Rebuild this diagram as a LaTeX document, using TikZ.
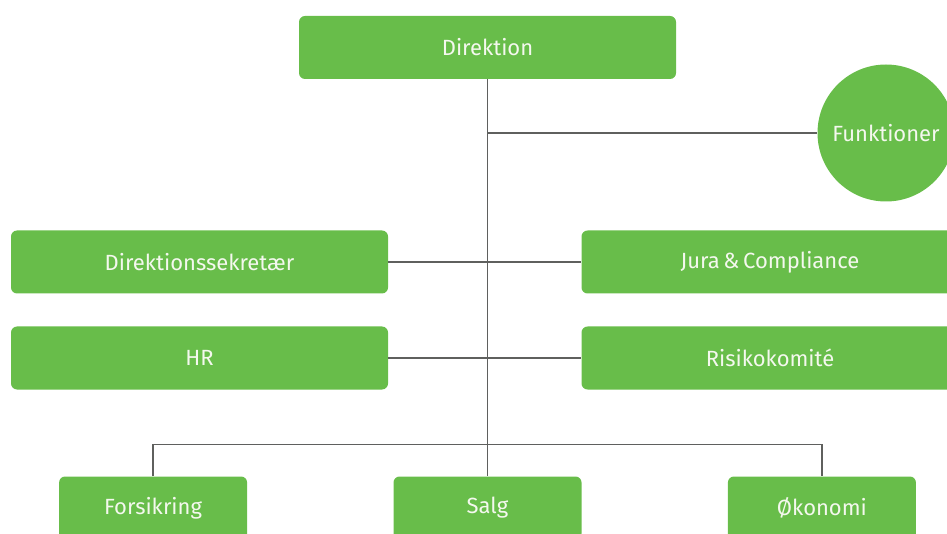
\documentclass[tikz,border=0pt]{standalone}
\usepackage{fontspec}
\setmainfont{Fira Sans}
\usepackage{xcolor}
\usepackage{tikz}
\usetikzlibrary{positioning,calc}

\definecolor{orggreen}{HTML}{68BD4A}
\definecolor{linegray}{HTML}{5F605E}
\definecolor{labelwhite}{HTML}{F4F8EE}

\begin{document}
\begin{tikzpicture}[
    x=1pt, y=-1pt,
    font=\fontsize{22}{26}\selectfont,
    unit/.style={fill=orggreen, rounded corners=6pt, text=labelwhite, minimum width=377pt, minimum height=63pt, inner sep=0pt},
    dept/.style={unit, minimum width=188pt},
    staff/.style={circle, fill=orggreen, text=labelwhite, minimum size=137pt, inner sep=0pt},
    link/.style={draw=linegray, line width=1.3pt}
]
\useasboundingbox (0,0) rectangle (947,534);
\clip (0,0) rectangle (947,534);
% top
\node[unit] (dir) at (487.5,47.5) {Direktion};
\node[staff] (fun) at (886,133) {Funktioner};
% staff rows
\node[unit] (sek) at (199.5,262) {Direktionssekretær};
\node[unit] (hr) at (199.5,358) {HR};
\node[unit] (jura) at (770,262) {Jura\,\&\,Compliance};
\node[unit] (risk) at (770,358) {Risikokomité};
% departments
\node[dept] (salg) at (487.5,508) {Salg};
\node[dept, left=146pt of salg] (fors) {Forsikring};
\node[dept, right=146pt of salg] (oko) {Økonomi};

\draw[link] (dir.south) -- (salg.north);
\draw[link] (dir.south |- fun.west) -- (fun.west);
\draw[link] (sek.east) -- (jura.west);
\draw[link] (hr.east) -- (risk.west);
\draw[link] (fors.north) -- ++(0,-32) -| (oko.north);
\end{tikzpicture}
\end{document}
